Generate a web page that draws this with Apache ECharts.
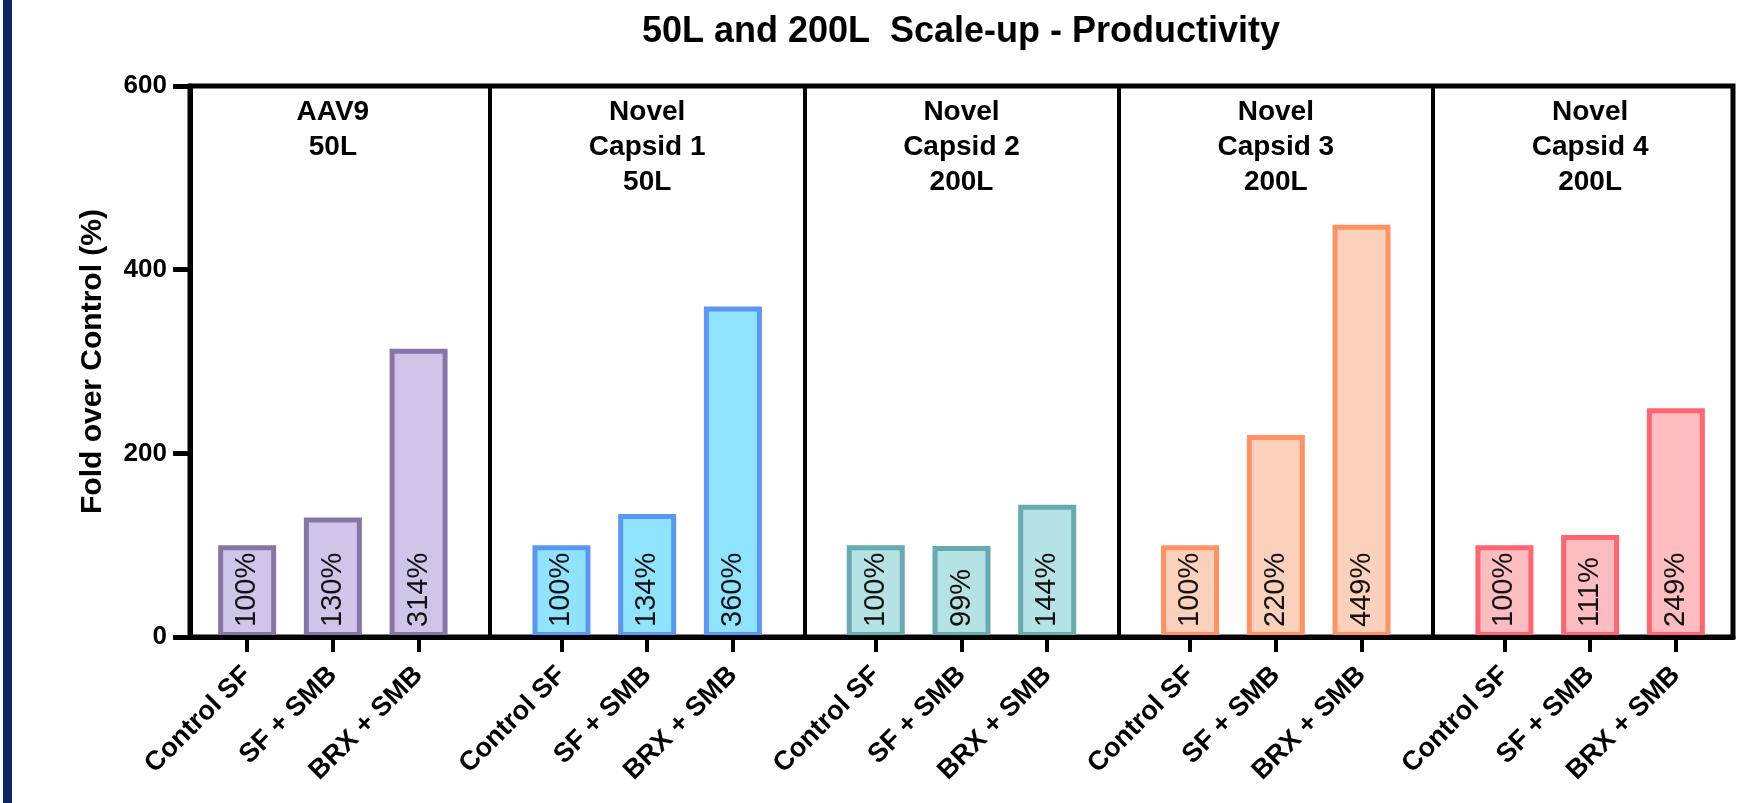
<!DOCTYPE html>
<html>
<head>
<meta charset="utf-8">
<title>50L and 200L Scale-up - Productivity</title>
<script src="https://cdn.jsdelivr.net/npm/echarts@6/dist/echarts.min.js"></script>
<style>
  html, body { margin: 0; padding: 0; background: #ffffff; }
  #chart { width: 1753px; height: 803px; }
</style>
</head>
<body>
<div id="chart"></div>
<script>
// Panels (one per capsid / scale) and the three culture conditions in each
const panelTitles = ['AAV9\n50L', 'Novel\nCapsid 1\n50L', 'Novel\nCapsid 2\n200L', 'Novel\nCapsid 3\n200L', 'Novel\nCapsid 4\n200L'];
const conditions = ['Control SF', 'SF + SMB', 'BRX + SMB'];

// Fold over control (%) for each panel, in condition order
const aav9_50L = [100, 130, 314];
const capsid1_50L = [100, 134, 360];
const capsid2_200L = [100, 99, 144];
const capsid3_200L = [100, 220, 449];
const capsid4_200L = [100, 111, 249];
const panelValues = [aav9_50L, capsid1_50L, capsid2_200L, capsid3_200L, capsid4_200L];

// Y axis range
const yMin = 0, yMax = 600, yStep = 200;

// Per-panel bar palette (fill, outline)
const fills = ['#d0c4e8', '#8fe3fd', '#b5e2e4', '#fcd1bc', '#fdbcc0'];
const strokes = ['#8676a8', '#5b96f2', '#67aab0', '#ff9262', '#ff6570'];

// Fine slot grid on the category axis: bars sit on slots, panel dividers between groups
const LEAD = 4, PITCH = 6, GROUP_STEP = 22;
const SLOTS = LEAD * 2 + (panelTitles.length - 1) * GROUP_STEP + (conditions.length - 1) * PITCH + 1;

const bottomLabels = new Array(SLOTS).fill('');
const topLabels = new Array(SLOTS).fill('');
const barData = new Array(SLOTS).fill(null);
const barSlots = new Set();
const dividerSlots = new Set();
const titleSlots = new Set();

panelValues.forEach(function (vals, g) {
  const start = LEAD + g * GROUP_STEP;
  vals.forEach(function (v, i) {
    const s = start + i * PITCH;
    bottomLabels[s] = conditions[i];
    barSlots.add(s);
    barData[s] = {
      value: v,
      itemStyle: { color: fills[g], borderColor: strokes[g] }
    };
  });
  const mid = start + (conditions.length - 1) * PITCH / 2;
  topLabels[mid] = panelTitles[g];
  titleSlots.add(mid);
  if (g < panelValues.length - 1) {
    dividerSlots.add(start + (conditions.length - 1) * PITCH + (GROUP_STEP - (conditions.length - 1) * PITCH) / 2);
  }
});

const FONT = '"Liberation Sans", Arial, Helvetica, sans-serif';

const chart = echarts.init(document.getElementById('chart'), null, { renderer: 'canvas' });

chart.setOption({
  backgroundColor: '#ffffff',
  animation: false,
  title: {
    text: '50L and 200L  Scale-up - Productivity',
    left: 961,
    top: 14,
    padding: 0,
    textAlign: 'center',
    textStyle: { fontFamily: FONT, fontSize: 36, fontWeight: 'bold', color: '#000' }
  },
  graphic: [{
    type: 'rect',
    left: 3,
    top: 0,
    shape: { width: 9, height: 803 },
    style: { fill: '#0c2565' },
    silent: true
  }],
  grid: {
    left: 190,
    right: 20,
    top: 86,
    bottom: 166,
    show: true,
    borderColor: '#000',
    borderWidth: 5,
    backgroundColor: 'transparent'
  },
  xAxis: [{
    type: 'category',
    data: bottomLabels,
    boundaryGap: false,
    position: 'bottom',
    z: 10,
    axisLine: { show: true, lineStyle: { color: '#000', width: 5 } },
    axisTick: {
      show: true,
      length: 15,
      interval: function (idx) { return barSlots.has(idx); },
      lineStyle: { color: '#000', width: 4 }
    },
    axisLabel: {
      show: true,
      interval: function (idx) { return barSlots.has(idx); },
      rotate: 45,
      margin: 34,
      fontFamily: FONT,
      fontSize: 27,
      fontWeight: 'bold',
      color: '#000'
    },
    splitLine: {
      show: true,
      interval: function (idx) { return dividerSlots.has(idx); },
      lineStyle: { color: '#000', width: 4 }
    }
  }, {
    type: 'category',
    data: topLabels,
    boundaryGap: false,
    position: 'top',
    axisLine: { show: false },
    axisTick: { show: false },
    splitLine: { show: false },
    axisLabel: {
      show: true,
      inside: true,
      interval: function (idx) { return titleSlots.has(idx); },
      margin: 9,
      fontFamily: FONT,
      fontSize: 28,
      fontWeight: 'bold',
      lineHeight: 35,
      align: 'center',
      color: '#000'
    }
  }],
  yAxis: {
    type: 'value',
    min: yMin,
    max: yMax,
    interval: yStep,
    z: 10,
    name: 'Fold over Control (%)',
    nameLocation: 'middle',
    nameRotate: 90,
    nameGap: 82,
    nameTextStyle: { fontFamily: FONT, fontSize: 30, fontWeight: 'bold', color: '#000' },
    axisLine: { show: true, lineStyle: { color: '#000', width: 5 } },
    axisTick: { show: true, length: 17, lineStyle: { color: '#000', width: 5 } },
    axisLabel: {
      margin: 23,
      fontFamily: FONT,
      fontSize: 26,
      fontWeight: 'bold',
      color: '#000'
    },
    splitLine: { show: false }
  },
  series: [{
    type: 'bar',
    xAxisIndex: 0,
    data: barData,
    barWidth: 58,
    itemStyle: { borderWidth: 5 },
    label: {
      show: true,
      position: 'insideBottom',
      rotate: 90,
      align: 'left',
      verticalAlign: 'middle',
      distance: 10,
      fontFamily: FONT,
      fontSize: 29,
      color: '#111',
      formatter: function (p) { return p.value + '%'; }
    }
  }]
});
</script>
</body>
</html>
